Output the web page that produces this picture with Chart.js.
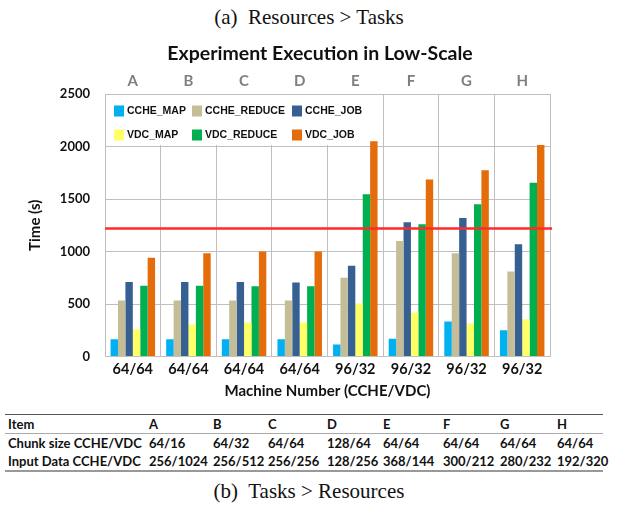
<!DOCTYPE html>
<html>
<head>
<meta charset="utf-8">
<script src="https://cdn.jsdelivr.net/npm/chart.js@4.4.1/dist/chart.umd.min.js"></script>
<style>
  html, body { margin: 0; padding: 0; background: #fff; }
  body { width: 618px; height: 514px; position: relative; overflow: hidden; }
  .cap { position: absolute; left: 0; width: 618px; text-align: center;
         font-family: 'Liberation Serif', 'Times New Roman', serif; font-size: 21px; color: #111; }
  #capA { top: 5px; }
  #capB { top: 479px; }
  #chartTitle { position: absolute; left: 20px; width: 600px; top: 40px; text-align: center;
                font-family: Lato, sans-serif; font-weight: 700; font-size: 19.5px; color: #111;
                line-height: 26px; }
  #chartWrap { position: absolute; left: 0; top: 0; width: 618px; height: 402px; }
  #infoTable { position: absolute; left: 5px; top: 414px; width: 598px; border-collapse: collapse;
               table-layout: fixed; font-family: Lato, 'Open Sans', sans-serif; font-weight: 700;
               font-size: 13px; color: #111;
               border-top: 1.5px solid #555; border-bottom: 2px solid #999; }
  #infoTable td { padding: 0; height: 18px; line-height: 18px; white-space: nowrap; overflow: visible; }
  #infoTable td:first-child { padding-left: 3px; }
  #infoTable tr.head td { border-bottom: 1px solid #aaa; }
</style>
</head>
<body>
<div class="cap" id="capA">(a)&nbsp; Resources &gt; Tasks</div>
<div id="chartWrap"><canvas id="chart"></canvas></div>
<div id="chartTitle">Experiment Execution in Low-Scale</div>
<table id="infoTable">
  <colgroup>
    <col style="width:144px"><col style="width:64px"><col style="width:55px"><col style="width:59px">
    <col style="width:56px"><col style="width:60px"><col style="width:57px"><col style="width:57px">
    <col style="width:46px">
  </colgroup>
  <tbody id="infoBody"></tbody>
</table>
<div class="cap" id="capB">(b)&nbsp; Tasks &gt; Resources</div>

<script>
// ── data ──
const CATEGORIES = ['A', 'B', 'C', 'D', 'E', 'F', 'G', 'H'];
const MACHINES   = ['64/64', '64/64', '64/64', '64/64', '96/32', '96/32', '96/32', '96/32'];

const CCHE_MAP    = [165, 165, 165, 165, 115, 170, 335, 250];
const CCHE_REDUCE = [535, 535, 535, 535, 750, 1100, 985, 810];
const CCHE_JOB    = [710, 710, 710, 705, 865, 1280, 1320, 1070];
const VDC_MAP     = [260, 305, 325, 325, 505, 420, 315, 355];
const VDC_REDUCE  = [675, 675, 670, 670, 1545, 1260, 1450, 1655];
const VDC_JOB     = [940, 985, 1000, 1000, 2050, 1685, 1775, 2015];

const THRESHOLD = 1220;
const Y_TICKS = [0, 500, 1000, 1500, 2000, 2500];

const TABLE_HEAD   = ['Item', 'A', 'B', 'C', 'D', 'E', 'F', 'G', 'H'];
const CHUNK_SIZE   = ['Chunk size CCHE/VDC', '64/16', '64/32', '64/64', '128/64', '64/64', '64/64', '64/64', '64/64'];
const INPUT_DATA   = ['Input Data CCHE/VDC', '256/1024', '256/512', '256/256', '128/256', '368/144', '300/212', '280/232', '192/320'];

const COLORS = {
  ccheMap:    '#00B0F0',
  ccheReduce: '#C4BD97',
  ccheJob:    '#376092',
  vdcMap:     '#FFFF66',
  vdcReduce:  '#00B050',
  vdcJob:     '#E46C0A',
  grid:       '#bfbfbf',
  red:        '#FF2A2A'
};

// ── table ──
document.getElementById('infoBody').innerHTML = [TABLE_HEAD, CHUNK_SIZE, INPUT_DATA].map((row, i) =>
  `<tr class="${i === 0 ? 'head' : ''}">${row.map(c => `<td>${c}</td>`).join('')}</tr>`
).join('');

// ── chart ──
const SERIES = [
  { label: 'CCHE_MAP',    data: CCHE_MAP,    color: COLORS.ccheMap },
  { label: 'CCHE_REDUCE', data: CCHE_REDUCE, color: COLORS.ccheReduce },
  { label: 'CCHE_JOB',    data: CCHE_JOB,    color: COLORS.ccheJob },
  { label: 'VDC_MAP',     data: VDC_MAP,     color: COLORS.vdcMap },
  { label: 'VDC_REDUCE',  data: VDC_REDUCE,  color: COLORS.vdcReduce },
  { label: 'VDC_JOB',     data: VDC_JOB,     color: COLORS.vdcJob }
];

// legend in the plot, two rows of three, on a white box
const insideLegend = {
  id: 'insideLegend',
  beforeDatasetsDraw(chart) {
    const { ctx, chartArea: { left, top } } = chart;
    const colX = [9, 87, 187];
    const rowY = [17, 41];
    ctx.save();
    ctx.fillStyle = '#fff';
    ctx.fillRect(left + 1, top + 1, 258, 50);
    ctx.font = '700 10.5px "Liberation Sans", Arial, sans-serif';
    ctx.textBaseline = 'middle';
    chart.data.datasets.forEach((ds, i) => {
      const x = left + colX[i % 3];
      const y = top + rowY[Math.floor(i / 3)];
      ctx.fillStyle = ds.backgroundColor;
      ctx.fillRect(x, y - 5.5, 10, 11);
      ctx.fillStyle = '#111';
      ctx.fillText(ds.label, x + 13, y + 0.5);
    });
    ctx.restore();
  }
};

// red reference line
const thresholdLine = {
  id: 'thresholdLine',
  afterDatasetsDraw(chart) {
    const { ctx, chartArea: { left, right }, scales: { y } } = chart;
    const py = y.getPixelForValue(THRESHOLD);
    ctx.save();
    ctx.strokeStyle = COLORS.red;
    ctx.lineWidth = 2.5;
    ctx.beginPath();
    ctx.moveTo(left, py);
    ctx.lineTo(right + 2, py);
    ctx.stroke();
    ctx.restore();
  }
};

const FONT = 'Lato';

new Chart(document.getElementById('chart'), {
  type: 'bar',
  data: {
    labels: MACHINES,
    datasets: SERIES.map(s => ({
      label: s.label,
      data: s.data,
      backgroundColor: s.color,
      borderWidth: 0,
      categoryPercentage: 0.8,
      barPercentage: 1.0
    }))
  },
  options: {
    responsive: true,
    maintainAspectRatio: false,
    animation: false,
    layout: { padding: { top: 68, left: 26, right: 68, bottom: 2 } },
    plugins: {
      legend: { display: false },
      tooltip: { enabled: false },
      title: { display: false }
    },
    scales: {
      x: {
        grid: { color: COLORS.grid, drawTicks: false, offset: true },
        border: { color: COLORS.grid },
        ticks: { color: '#111', padding: 4, font: { family: FONT, size: 14.5, weight: '700' } },
        title: {
          display: true,
          text: 'Machine Number (CCHE/VDC)',
          color: '#111',
          font: { family: FONT, size: 15, weight: '700' },
          padding: { top: 0, bottom: 0 }
        }
      },
      x2: {
        type: 'category',
        labels: CATEGORIES,
        position: 'top',
        offset: true,
        grid: { display: false, drawTicks: false },
        border: { display: false },
        ticks: { color: '#7f7f7f', padding: 4, font: { family: FONT, size: 15, weight: '700' } }
      },
      y: {
        min: Y_TICKS[0],
        max: Y_TICKS[Y_TICKS.length - 1],
        grid: { color: COLORS.grid, drawTicks: false },
        border: { color: COLORS.grid },
        afterBuildTicks: scale => { scale.ticks = Y_TICKS.map(v => ({ value: v })); },
        afterFit: scale => { scale.width = 79; },
        ticks: {
          padding: 15,
          color: '#111',
          font: { family: FONT, size: 13, weight: '700' },
          callback: v => String(v)
        },
        title: {
          display: true,
          text: 'Time (s)',
          color: '#111',
          font: { family: FONT, size: 15, weight: '700' },
          padding: { top: 0, bottom: 1 }
        }
      }
    }
  },
  plugins: [insideLegend, thresholdLine]
});
</script>
</body>
</html>
